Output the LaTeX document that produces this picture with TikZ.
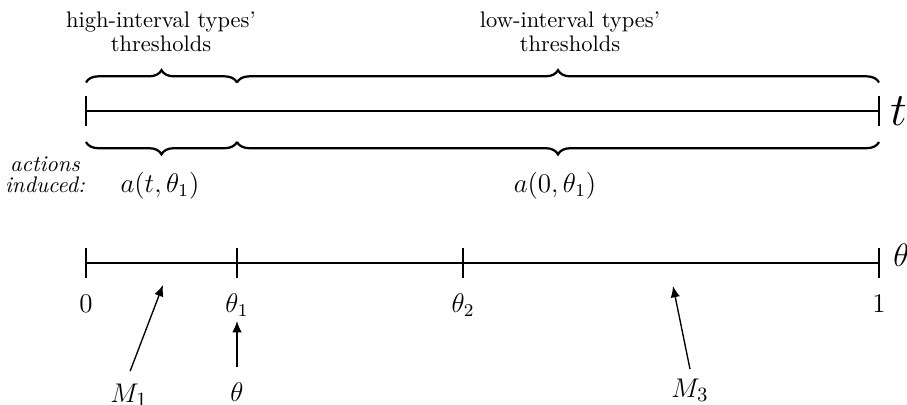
\documentclass[tikz,border=0pt]{standalone}
\usetikzlibrary{decorations.pathreplacing,arrows.meta}
\begin{document}
\begin{tikzpicture}[x=0.4444pt,y=-0.4444pt,
  axisline/.style={line width=1.3pt},
  tickmark/.style={line width=0.55pt},
  bracestyle/.style={line width=1pt,decorate,decoration={brace,amplitude=5.5pt}},
  arr/.style={line width=0.6pt,-{Latex[length=5pt,width=4.2pt]}},
  lab/.style={inner sep=0pt},
  toplab/.style={inner sep=0pt,anchor=south,align=center},
  mlab/.style={inner sep=0pt,anchor=base,font=\fontsize{13}{15}\selectfont},
]
\useasboundingbox (0,0) rectangle (907,404);
\clip (0,0) rectangle (907,404);

% top axis (t)
\coordinate (tl) at (86,111);
\coordinate (tr) at (879,111);
\draw[axisline] (tl) -- (tr);
\draw[tickmark] ([yshift=6.7pt]tl) -- ([yshift=-6.7pt]tl);
\draw[tickmark] ([yshift=6.7pt]tr) -- ([yshift=-6.7pt]tr);
\node[lab,anchor=base west,font=\huge] (tlab) at (890,125) {$t$};

% braces above
\coordinate (ua) at (86,82.5);
\coordinate (ub) at (237,82.5);
\coordinate (uc) at (879,82.5);
\draw[bracestyle] (ua) -- (ub);
\draw[bracestyle] (ub) -- (uc);
\node[toplab] (hi) at (161,52) {high-interval types'\\[-1.3pt]thresholds};
\node[toplab] (lo) at (570,52) {low-interval types'\\[-1.3pt]thresholds};

% braces below
\coordinate (la) at (86,142);
\coordinate (lb) at (237,142);
\coordinate (lc) at (879,142);
\draw[bracestyle] (lb) -- (la);
\draw[bracestyle] (lc) -- (lb);
\node[toplab,font=\itshape] (act) at (45,193) {actions\\[-2.7pt]induced:};
\node[lab,anchor=base,font=\large] (a1) at (160,192) {$a(t,\theta_1)$};
\node[lab,anchor=base,font=\large] (a2) at (555,192) {$a(0,\theta_1)$};

% bottom axis (theta)
\coordinate (b0) at (86,263);
\coordinate (b1) at (237,263);
\coordinate (b2) at (463,263);
\coordinate (b3) at (879,263);
\draw[axisline] (b0) -- (b3);
\foreach \c in {b0,b1,b2,b3}
  \draw[tickmark] ([yshift=6.7pt]\c) -- ([yshift=-6.7pt]\c);
\node[lab,anchor=base west,font=\Large] (thlab) at (893,266) {$\theta$};
\node[lab,anchor=base,font=\large] (l0) at (86,312) {$0$};
\node[lab,anchor=base,font=\large] (l1) at (237,312) {$\theta_1$};
\node[lab,anchor=base,font=\large] (l2) at (463,312) {$\theta_2$};
\node[lab,anchor=base,font=\large] (l3) at (879,312) {$1$};

% arrows
\coordinate (m1tip) at (163,285);
\coordinate (thtip) at (237,321);
\coordinate (m3tip) at (673,286);
\node[mlab] (m1) at (129,402) {$M_1$};
\node[lab,anchor=base,font=\large] (th) at (237,401) {$\theta$};
\node[mlab] (m3) at (690,397) {$M_3$};
\draw[arr] ([xshift=0.5pt,yshift=5.3pt]m1.north) -- (m1tip);
\draw[arr] ([yshift=6.7pt]th.north) -- (thtip);
\draw[arr] ([yshift=4pt]m3.north) -- (m3tip);
\end{tikzpicture}
\end{document}
